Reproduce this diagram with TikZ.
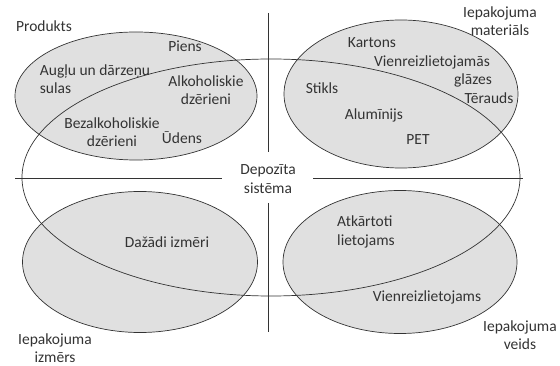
\documentclass[tikz,border=0pt]{standalone}
\usepackage{fontspec}
\setmainfont{Carlito}
\usetikzlibrary{shapes.geometric}
\definecolor{inkgray}{HTML}{333333}
\definecolor{setfill}{HTML}{E0E0E0}
\tikzset{
  setblob/.style={
    ellipse,
    draw=inkgray,
    line width=0.7pt,
    fill=setfill,
    inner sep=0pt
  },
  hubring/.style={
    ellipse,
    draw=inkgray,
    line width=0.7pt,
    inner sep=0pt
  },
  itemtext/.style={
    text=inkgray,
    inner sep=1pt,
    font=\fontsize{15.5}{18.5}\selectfont
  },
  axisline/.style={draw=inkgray,line width=0.7pt}
}
\begin{document}
\begin{tikzpicture}[x=1pt,y=-1pt]
\useasboundingbox (0,0) rectangle (560,366);
% the four groups
\node[setblob,minimum width=242pt,minimum height=128pt] (products) at (136,96) {};
\node[setblob,minimum width=234pt,minimum height=148pt] (material) at (401,94) {};
\node[setblob,minimum width=235pt,minimum height=141pt] (size) at (140,262) {};
\node[setblob,minimum width=234pt,minimum height=143pt] (kind) at (400,262) {};
% deposit system
\node[hubring,minimum width=498pt,minimum height=237pt] (deposit) at (271,177.5) {};
\node[itemtext,align=center] (hub) at (268,179) {Depozīta\\sistēma};
% axes
\coordinate (wEnd) at (15,178);
\coordinate (wGap) at (222,178);
\coordinate (eGap) at (313,178);
\coordinate (eEnd) at (523,178);
\coordinate (nEnd) at (268,13);
\coordinate (nGap) at (268,152);
\coordinate (sGap) at (268,203);
\coordinate (sEnd) at (268,332);
\draw[axisline] (wEnd) -- (wGap);
\draw[axisline] (eGap) -- (eEnd);
\draw[axisline] (nEnd) -- (nGap);
\draw[axisline] (sGap) -- (sEnd);
% group titles
\node[itemtext] (tProducts) at (44,26) {Produkts};
\node[itemtext,align=center] (tMaterial) at (500,21) {Iepakojuma\\materiāls};
\node[itemtext,align=center] (tSize) at (55,348) {Iepakojuma\\izmērs};
\node[itemtext,align=center] (tKind) at (520,335) {Iepakojuma\\veids};
% products
\node[itemtext] (milk) at (185,46) {Piens};
\node[itemtext,align=left] (juice) at (95,79) {Augļu un dārzeņu\\sulas};
\node[itemtext,align=center] (alco) at (206,90) {Alkoholiskie\\dzērieni};
\node[itemtext,align=center] (soft) at (112,132) {Bezalkoholiskie\\dzērieni};
\node[itemtext] (water) at (182,138) {Ūdens};
% materials
\node[itemtext] (carton) at (372,43) {Kartons};
\node[itemtext] (cups) at (432,62) {Vienreizlietojamās};
\node[itemtext] (cups2) at (473,80) {glāzes};
\node[itemtext] (steel) at (489,98) {Tērauds};
\node[itemtext] (glass) at (322,88) {Stikls};
\node[itemtext] (alu) at (374,115) {Alumīnijs};
\node[itemtext] (pet) at (418,140) {PET};
% sizes and kinds
\node[itemtext] (sizes) at (167,242) {Dažādi izmēri};
\node[itemtext,align=left] (reuse) at (366,232) {Atkārtoti\\lietojams};
\node[itemtext] (single) at (427,297) {Vienreizlietojams};
\end{tikzpicture}
\end{document}
